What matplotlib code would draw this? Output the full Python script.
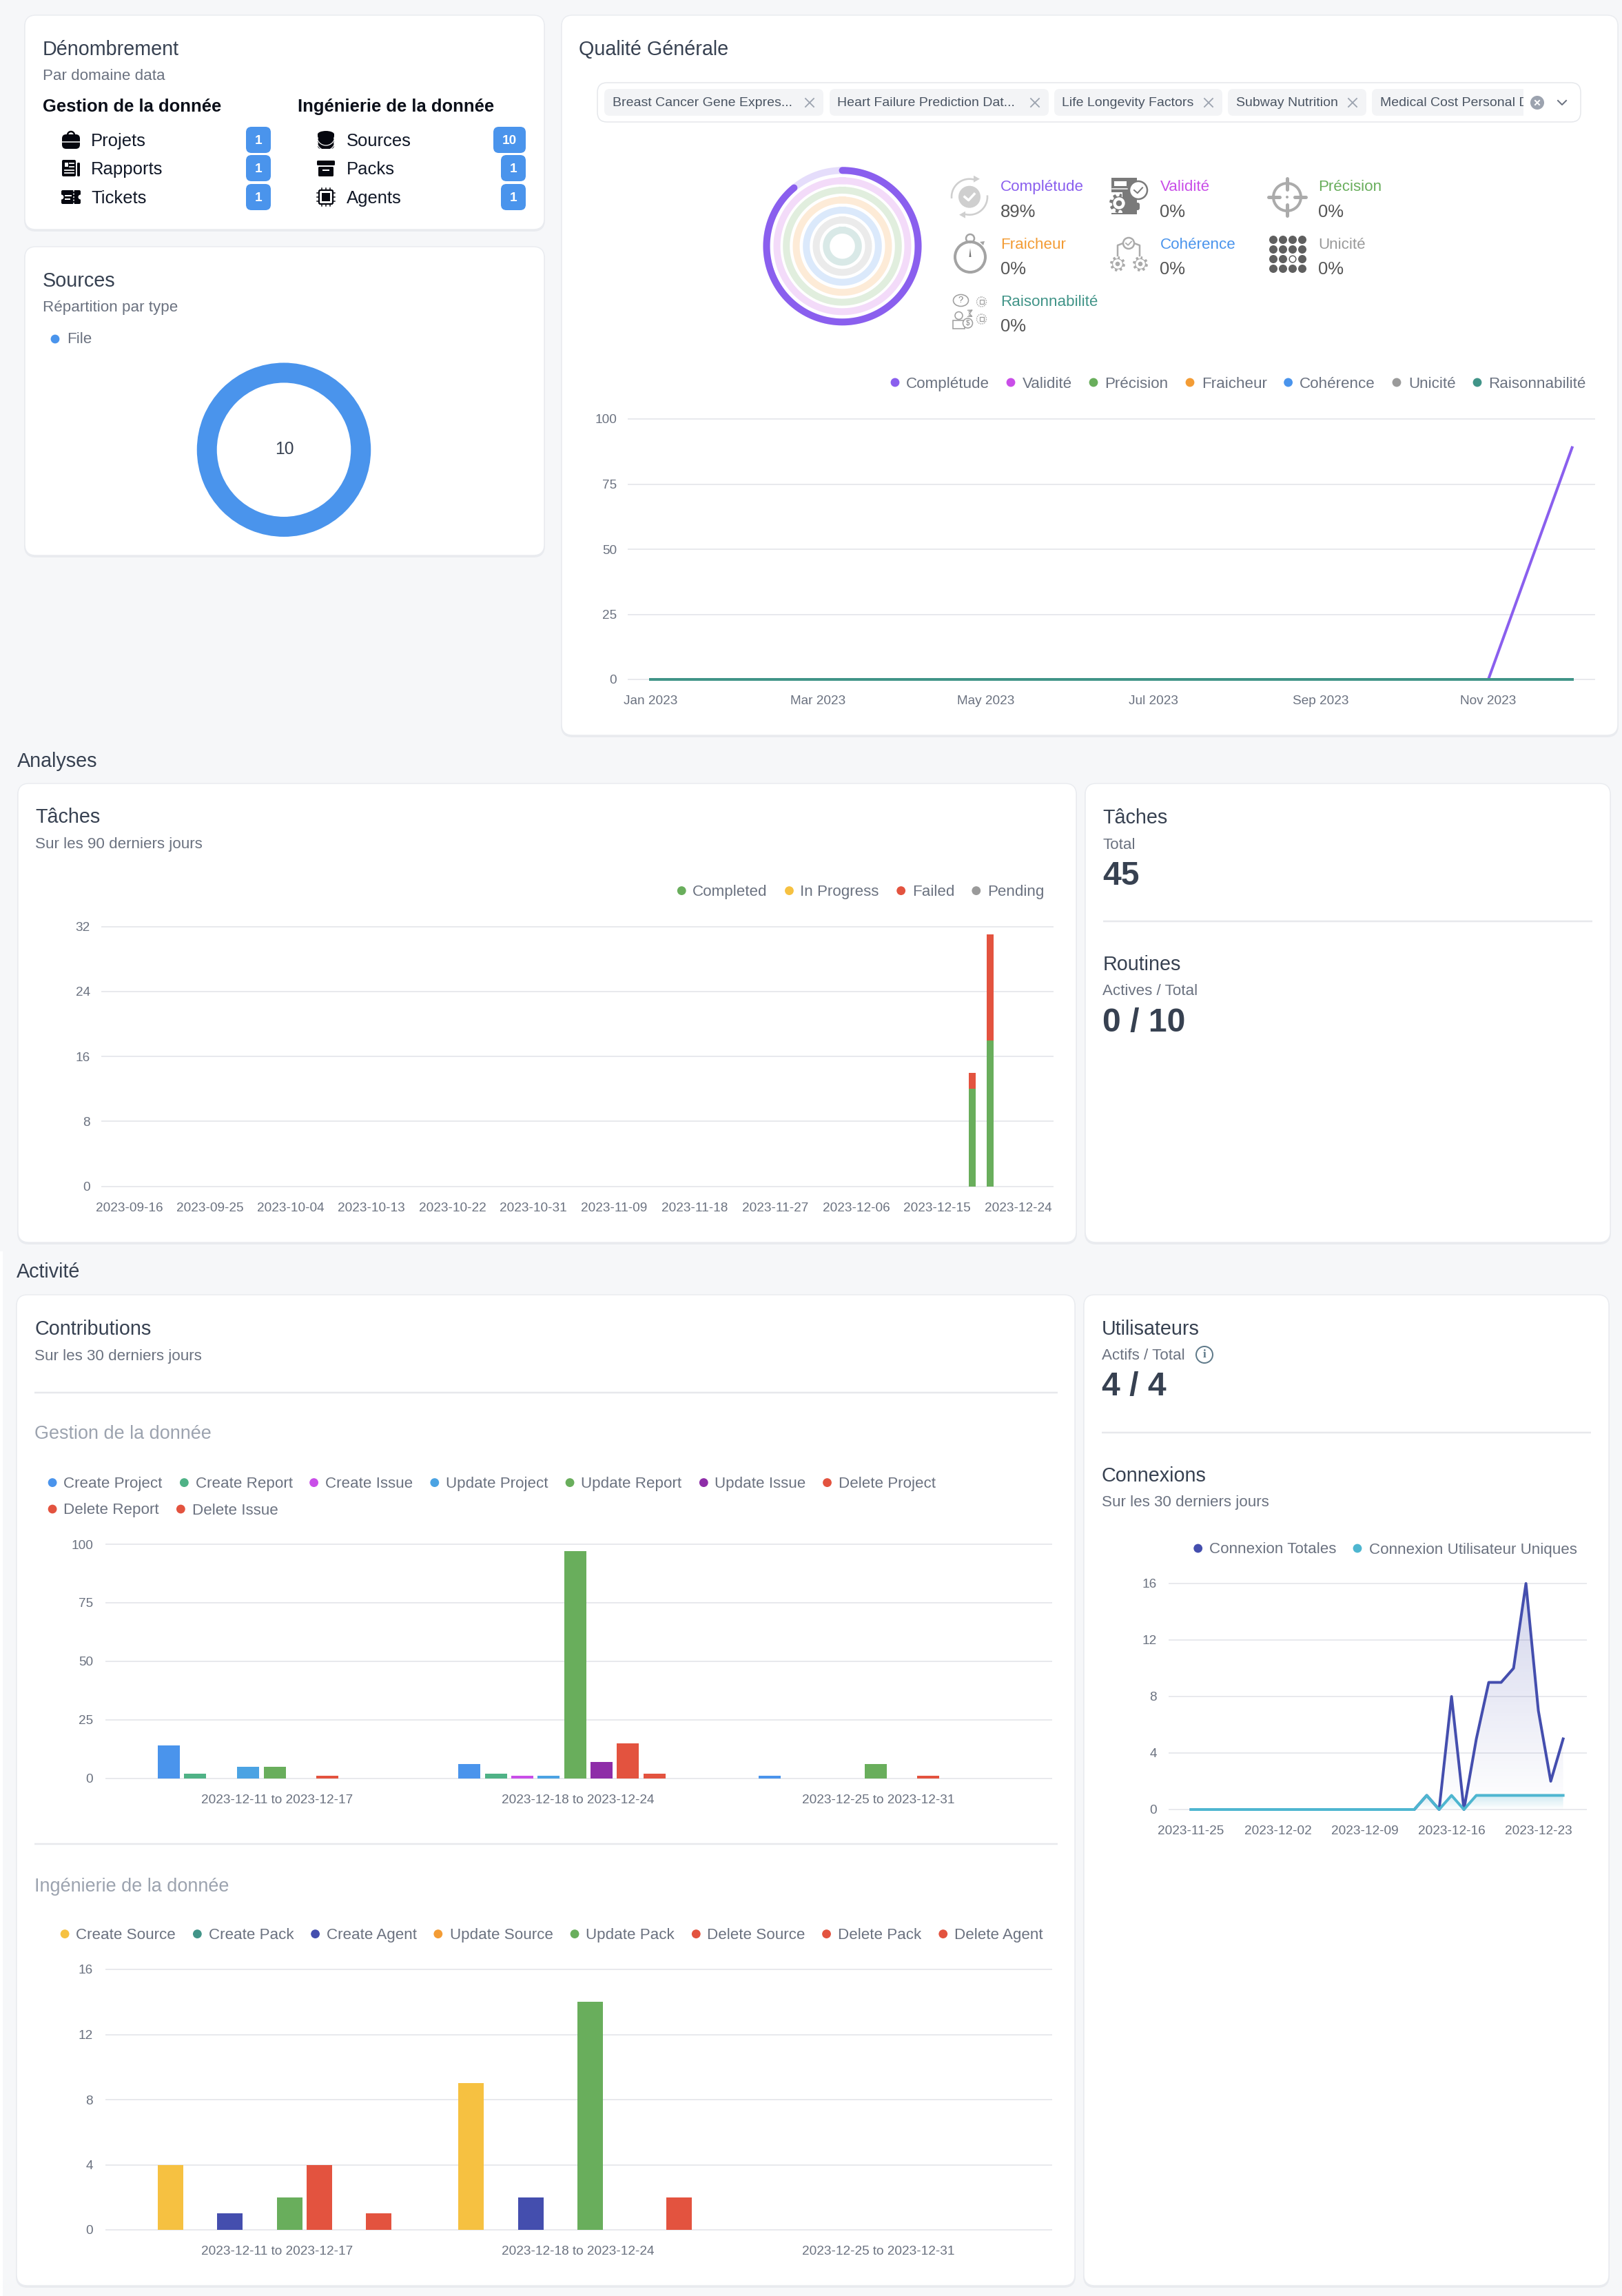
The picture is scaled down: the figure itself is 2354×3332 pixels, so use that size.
#!/usr/bin/env python3
"""Tableau de bord qualite / activite, refait en matplotlib."""
import numpy as np, pandas as pd
import matplotlib
matplotlib.use("Agg")
import matplotlib.pyplot as plt
import matplotlib.transforms as mtrans
from matplotlib.patches import FancyBboxPatch, Circle, Rectangle, Polygon, Ellipse

W, H = 2354, 3332
plt.rcParams["font.family"] = ["Liberation Sans", "DejaVu Sans"]

# couleurs
BG = "#F6F7F9"; TITLE = "#374151"; SUB = "#6B7280"; GRID = "#E8E9ED"
BLUE = "#4A94EC"; MINT = "#4FB286"; MAGENTA = "#C94EE8"; LBLUE = "#4BA3E3"
GREEN = "#69AE5C"; DPURPLE = "#8E2DA8"; RED = "#E3533F"; YELLOW = "#F6C141"
TEAL = "#419488"; INDIGO = "#444EAE"; ORANGE = "#F39C35"; PURPLE = "#8A5FEE"
GREY = "#9A9A9A"; CYAN = "#4EB6D0"

# ---- donnees ----
source_types = ["File"]
source_counts = [10]

quality_names = ["Complétude", "Validité", "Précision", "Fraicheur",
                 "Cohérence", "Unicité", "Raisonnabilité"]
quality_colors = [PURPLE, MAGENTA, GREEN, ORANGE, BLUE, GREY, TEAL]
quality_tracks = ["#E5DDFB", "#F3DBF9", "#E1EEDE", "#FDEBD7", "#DBE9FB",
                  "#EBEBEB", "#D9E9E7"]
quality_pct = [89, 0, 0, 0, 0, 0, 0]

months = ["Jan 2023", "Feb 2023", "Mar 2023", "Apr 2023", "May 2023", "Jun 2023",
          "Jul 2023", "Aug 2023", "Sep 2023", "Oct 2023", "Nov 2023", "Dec 2023"]
completude = [0, 0, 0, 0, 0, 0, 0, 0, 0, 0, 0, 89]
zero_year = [0, 0, 0, 0, 0, 0, 0, 0, 0, 0, 0, 0]

task_start = "2023-09-16"
task_dates = ["2023-12-19", "2023-12-21"]
task_completed = [12, 18]
task_failed = [2, 13]

weeks = ["2023-12-11 to 2023-12-17", "2023-12-18 to 2023-12-24",
         "2023-12-25 to 2023-12-31"]
gestion_names = ["Create Project", "Create Report", "Create Issue", "Update Project",
                 "Update Report", "Update Issue", "Delete Project", "Delete Report",
                 "Delete Issue"]
gestion_colors = [BLUE, MINT, MAGENTA, LBLUE, GREEN, DPURPLE, RED, RED, RED]
create_project = [14, 6, 1]
create_report = [2, 2, 0]
create_issue = [0, 1, 0]
update_project = [5, 1, 0]
update_report = [5, 97, 6]
update_issue = [0, 7, 0]
delete_project = [1, 15, 1]
delete_report = [0, 2, 0]
delete_issue = [0, 0, 0]

inge_names = ["Create Source", "Create Pack", "Create Agent", "Update Source",
              "Update Pack", "Delete Source", "Delete Pack", "Delete Agent"]
inge_colors = [YELLOW, TEAL, INDIGO, ORANGE, GREEN, RED, RED, RED]
create_source = [4, 9, 0]
create_pack = [0, 0, 0]
create_agent = [1, 2, 0]
update_source = [0, 0, 0]
update_pack = [2, 14, 0]
delete_source = [4, 0, 0]
delete_pack = [0, 0, 0]
delete_agent = [1, 2, 0]

conn_start = "2023-11-25"
conn_total = [0, 0, 0, 0, 0, 0, 0, 0, 0, 0, 0, 0, 0, 0, 0, 0, 0, 0, 0, 1,
              0, 8, 0, 5, 9, 9, 10, 16, 7, 2, 5]
conn_unique = [0, 0, 0, 0, 0, 0, 0, 0, 0, 0, 0, 0, 0, 0, 0, 0, 0, 0, 0, 1,
               0, 1, 0, 1, 1, 1, 1, 1, 1, 1, 1]


def px(v):
    return v * 0.72


def zx(vals):
    # petit facteur d'echelle des mesures horizontales
    return [v * 1570 / 1568 for v in vals]


fig = plt.figure(figsize=(W / 100, H / 100), dpi=100, facecolor=BG)
ov = fig.add_axes([0, 0, 1, 1], zorder=0)
ov.set_xlim(0, W); ov.set_ylim(H, 0); ov.axis("off")


def rrect(x0, y0, x1, y1, r, fc, ec="none", lw=0, z=2):
    p = FancyBboxPatch((x0, y0), x1 - x0, y1 - y0, fc=fc, ec=ec, lw=px(lw), zorder=z,
                       boxstyle=f"round,pad=0,rounding_size={r}")
    ov.add_patch(p)
    return p


def card(x0, y0, x1, y1):
    rrect(x0 - 1, y0 + 1, x1 + 1, y1 + 3, 17, "#E9EBEF", z=1)
    rrect(x0, y0, x1, y1, 16, "white", ec="#EAECF0", lw=1.5)


def txt(x, y, s, size=22.4, c=SUB, **kw):
    kw.setdefault("va", "center")
    kw.setdefault("zorder", 5)
    return ov.text(x, y + 2, s, fontsize=px(size), color=c, **kw)


def hline(x0, x1, y):
    ov.plot([x0, x1], [y, y], color="#E7E8EC", lw=px(2.5), zorder=3, solid_capstyle="butt")


def dot(x, y, c, r=6.4):
    ov.add_patch(Circle((x, y), r, fc=c, ec="none", zorder=5))


def legend_row(y, dots, texts, labels, colors):
    for dx, tx, lab, c in zip(dots, texts, labels, colors):
        dot(dx, y, c)
        txt(tx, y, lab, 22.4)


def chart_ax(x0, x1, ytop, ybot, ylim, yticks, ypad):
    ax = fig.add_axes([x0 / W, 1 - ybot / H, (x1 - x0) / W, (ybot - ytop) / H], zorder=4)
    ax.patch.set_visible(False)
    for s in ax.spines.values():
        s.set_visible(False)
    ax.set_ylim(*ylim); ax.set_yticks(yticks)
    ax.tick_params(axis="y", length=0, pad=px(ypad), labelsize=px(19), labelcolor=SUB)
    ax.tick_params(axis="x", length=0, pad=px(23), labelsize=px(19), labelcolor=SUB)
    ax.grid(axis="y", color=GRID, lw=px(2)); ax.set_axisbelow(True)
    for gl in ax.get_ygridlines():
        gl.set_clip_on(False)
    return ax


def shift_labels(ax, dx):
    off = mtrans.ScaledTranslation(dx / 100, 0, fig.dpi_scale_trans)
    for lab in ax.get_xticklabels():
        lab.set_transform(lab.get_transform() + off)


# ---- petites icones (decor) ----
def gear(cx, cy, r, c, hole=0.45, teeth=8, z=6):
    t = np.linspace(0, 2 * np.pi, teeth * 8, endpoint=False)
    rad = r * (0.86 + 0.14 * np.sign(np.sin(teeth * t)))
    ov.add_patch(Polygon(np.c_[cx + rad * np.cos(t), cy + rad * np.sin(t)], fc=c, ec="none", zorder=z))
    ov.add_patch(Circle((cx, cy), r * 0.62, fc="white", ec="none", zorder=z))
    ov.add_patch(Circle((cx, cy), r * hole, fc=c, ec="none", zorder=z))


def check(cx, cy, s, c, lw):
    ov.plot([cx - s, cx - s * 0.2, cx + s], [cy, cy + s * 0.7, cy - s * 0.6], color=c, lw=px(lw), zorder=9)


def arc(cx, cy, r, a0, a1, c, lw, z=6):
    t = np.radians(np.linspace(a0, a1, 40))
    ov.plot(cx + r * np.cos(t), cy + r * np.sin(t), color=c, lw=px(lw), zorder=z, solid_capstyle="butt")


def icon_briefcase(x, y):
    k = "#05070F"
    arc(x, y - 7, 5, 180, 360, k, 2.5)
    rrect(x - 13, y - 8, x + 13, y + 13, 6, k, z=6)
    ov.plot([x - 13, x + 13], [y + 3, y + 3], color="white", lw=px(1.5), zorder=7)


def icon_news(x, y):
    k = "#05070F"
    rrect(x - 13, y - 12, x + 7, y + 12, 2, k, z=6)
    rrect(x + 9, y - 8, x + 13, y + 12, 1.5, k, z=6)
    ov.add_patch(Rectangle((x - 9, y - 8), 5, 6, fc="white", zorder=7))
    for dy in (-7, -2, 3, 7):
        ov.plot([x - 9 if dy > 0 else x - 2, x + 4], [y + dy, y + dy], color="white", lw=px(1.8), zorder=7)


def icon_ticket(x, y):
    k = "#05070F"
    rrect(x - 14, y - 10, x + 14, y + 10, 2, k, z=6)
    ov.add_patch(Circle((x - 14, y), 3.5, fc="white", zorder=7))
    ov.add_patch(Circle((x + 14, y), 3.5, fc="white", zorder=7))
    ov.plot([x + 4, x + 4], [y - 10, y + 10], color="white", lw=px(1.5), ls=(0, (1.5, 1.5)), zorder=7)
    ov.plot([x - 8, x + 0], [y - 2, y - 2], color="white", lw=px(2), zorder=7)
    ov.plot([x - 8, x - 2], [y + 3, y + 3], color="white", lw=px(2), zorder=7)


def icon_db(x, y):
    k = "#05070F"
    for dy in (8, 1, -6):
        rrect(x - 12, y + dy - 5, x + 12, y + dy + 5, 5, k, z=6)
        if dy != -6:
            arc(x, y + dy - 6, 13, 10, 170, "white", 1.2, z=7)
    ov.add_patch(Ellipse((x, y - 8), 24, 10, fc=k, zorder=7))


def icon_archive(x, y):
    k = "#05070F"
    rrect(x - 13, y - 11, x + 13, y - 4, 1.5, k, z=6)
    rrect(x - 11, y - 2, x + 11, y + 12, 1.5, k, z=6)
    ov.plot([x - 4, x + 4], [y + 3, y + 3], color="white", lw=px(2), zorder=7)


def icon_chip(x, y):
    k = "#05070F"
    rrect(x - 10, y - 10, x + 10, y + 10, 2, "white", ec=k, lw=2.2, z=6)
    ov.add_patch(Rectangle((x - 6, y - 6), 12, 12, fc=k, zorder=7))
    for d in (-6, 0, 6):
        ov.plot([x + d, x + d], [y - 13, y + 13], color=k, lw=px(1.5), zorder=5)
        ov.plot([x - 13, x + 13], [y + d, y + d], color=k, lw=px(1.5), zorder=5)


def icon_completude(x, y):
    c = "#CFCFCF"
    ov.add_patch(Circle((x, y), 16, fc=c, zorder=6))
    check(x, y, 7, "white", 3.5)
    arc(x, y, 26, 175, 285, c, 2.6); arc(x, y, 26, -5, 105, c, 2.6)
    ov.add_patch(Polygon([(x + 6, y - 31), (x + 6, y - 21), (x + 15, y - 26)], fc=c, zorder=6))
    ov.add_patch(Polygon([(x - 6, y + 31), (x - 6, y + 21), (x - 15, y + 26)], fc=c, zorder=6))


def icon_validite(x, y):
    c = "#7A7A7A"
    ov.add_patch(Rectangle((x - 25, y - 27), 37, 53, fc=c, zorder=6))
    ov.add_patch(Rectangle((x - 21, y - 22), 18, 7, fc="white", zorder=7))
    ov.plot([x - 24, x - 2], [y - 11, y - 11], color="white", lw=px(1.5), zorder=7)
    ov.add_patch(Rectangle((x - 27, y - 6), 18, 30, fc="white", zorder=6.2))
    gear(x - 14, y + 10, 14, c, hole=0.3, z=7)
    ov.add_patch(Circle((x + 14, y - 9), 13, fc="white", ec=c, lw=px(2.5), zorder=8))
    check(x + 14, y - 9, 6, c, 2)
    rrect(x + 10, y + 9, x + 16, y + 20, 3, c, z=8)


def icon_precision(x, y):
    c = "#ABABAB"
    ov.add_patch(Circle((x, y), 20, fc="none", ec=c, lw=px(4), zorder=6))
    for dx, dy in ((1, 0), (-1, 0), (0, 1), (0, -1)):
        ov.plot([x + 11 * dx, x + 27 * dx], [y + 11 * dy, y + 27 * dy], color=c, lw=px(5),
                zorder=7, solid_capstyle="round")
    ov.add_patch(Circle((x, y), 2, fc=c, zorder=7))


def icon_fraicheur(x, y):
    c = "#A3A3A3"
    ov.add_patch(Circle((x, y), 22, fc="white", ec=c, lw=px(4), zorder=6))
    ov.add_patch(Circle((x, y - 27), 6, fc="none", ec=c, lw=px(2.5), zorder=6))
    ov.add_patch(Polygon([(x - 1.5, y), (x + 1.5, y), (x, y - 13)], fc="#777777", zorder=7))
    ov.add_patch(Polygon([(x + 14, y - 22), (x + 19, y - 17), (x + 21, y - 23)], fc=c, zorder=7))


def icon_coherence(x, y):
    c = "#ABABAB"
    ov.add_patch(Circle((x, y - 18), 8, fc="white", ec=c, lw=px(2.5), zorder=7))
    check(x, y - 18, 4, c, 1.8)
    ov.plot([x - 16, x - 16, x - 8], [y + 0, y - 15, y - 18], color=c, lw=px(2.5), zorder=6)
    ov.plot([x + 16, x + 16, x + 8], [y + 0, y - 15, y - 18], color=c, lw=px(2.5), zorder=6)
    gear(x - 16, y + 12, 11, c, hole=0.3); gear(x + 17, y + 12, 11, c, hole=0.3)


def icon_unicite(x, y):
    c = "#5F5F5F"
    for i in range(4):
        for j in range(4):
            cx, cy = x - 21 + 14 * i, y - 21 + 14 * j
            if (i, j) == (2, 2):
                ov.add_patch(Circle((cx, cy), 4.8, fc="white", ec=c, lw=px(1.5), zorder=6))
            else:
                ov.add_patch(Circle((cx, cy), 6, fc=c, zorder=6))


def icon_raison(x, y):
    c = "#A0A0A0"
    ov.add_patch(Ellipse((x - 13, y - 20), 22, 17, fc="white", ec=c, lw=px(1.6), zorder=6))
    txt(x - 13, y - 22, "?", 13, "#808080", ha="center", zorder=7)
    for dy in (-18, 7):
        ov.add_patch(Circle((x + 17, y + dy), 7, fc="none", ec=c, lw=px(1.4), ls=(0, (1, 1)), zorder=6))
        ov.add_patch(Rectangle((x + 14, y + dy - 3), 6, 6, fc="none", ec=c, lw=px(1.3), zorder=6))
    ov.annotate("", (x + 7, y - 8), (x - 4, y - 2), arrowprops=dict(arrowstyle="->", color=c, lw=px(1.4)), zorder=6)
    ov.annotate("", (x + 7, y + 5), (x - 4, y - 0), arrowprops=dict(arrowstyle="->", color=c, lw=px(1.4)), zorder=6)
    ov.add_patch(Circle((x - 16, y + 2), 5.5, fc="none", ec=c, lw=px(1.6), zorder=6))
    ov.add_patch(Rectangle((x - 25, y + 9), 17, 12, fc="none", ec=c, lw=px(1.6), zorder=6))
    ov.add_patch(Circle((x - 3, y + 13), 7, fc="white", ec=c, lw=px(1.6), zorder=7))
    txt(x - 3, y + 11, "$", 10, "#808080", ha="center", zorder=8)


# bande claire a gauche du bas de page
ov.add_patch(Rectangle((0, 1816), 4, H - 1816, fc="white", ec="none", zorder=0))

# ---- Denombrement ----
card(36, 22, 790, 333)
txt(62, 70, "Dénombrement", 28.8, TITLE)
txt(62, 108, "Par domaine data", 22.4)
txt(62, 153, "Gestion de la donnée", 25.6, "#0B0F19", fontweight="bold")
txt(432, 153, "Ingénierie de la donnée", 25.6, "#0B0F19", fontweight="bold")
rows_y = [203, 244, 286]
left_rows = ["Projets", "Rapports", "Tickets"]
right_rows = ["Sources", "Packs", "Agents"]
left_counts = [1, 1, 1]
right_counts = [10, 1, 1]
for y, lab, n, ic in zip(rows_y, left_rows, left_counts, (icon_briefcase, icon_news, icon_ticket)):
    ic(103, y)
    txt(132, y, lab, 25.6, "#111827")
    rrect(357, y - 19, 393, y + 19, 8, BLUE, z=4)
    txt(375, y - 1, str(n), 19, "white", ha="center", fontweight="bold")
for y, lab, n, ic in zip(rows_y, right_rows, right_counts, (icon_db, icon_archive, icon_chip)):
    ic(473, y)
    txt(502.5, y, lab, 25.6, "#111827")
    x0 = 716 if n >= 10 else 727
    rrect(x0, y - 19, 763, y + 19, 8, BLUE, z=4)
    txt((x0 + 763) / 2, y - 1, str(n), 19, "white", ha="center", fontweight="bold")

# ---- Sources ----
card(36, 358, 790, 806)
txt(62, 406, "Sources", 28.8, TITLE)
txt(62, 444, "Répartition par type", 22.4)
dot(80, 492, BLUE)
txt(97, 490, source_types[0], 22.4)
R = 127
don = fig.add_axes([(412 - R) / W, 1 - (652.7 + R) / H, 2 * R / W, 2 * R / H], zorder=4)
don.pie(source_counts, colors=[BLUE], startangle=90, radius=1,
        wedgeprops=dict(width=30.5 / R, edgecolor="white", linewidth=px(1.5)))
don.set_xlim(-1, 1); don.set_ylim(-1, 1)
txt(412.5, 650, str(sum(source_counts)), 24.6, TITLE, ha="center")

# ---- Qualite generale ----
card(815, 22, 2348, 1067)
txt(840, 70, "Qualité Générale", 28.8, TITLE)
rrect(867, 120, 2294, 177, 14, "white", ec="#E5E7EB", lw=1.5, z=3)
chips = [(877, 1195, 889, "Breast Cancer Gene Expres..."), (1204, 1522, 1215, "Heart Failure Prediction Dat..."),
         (1530, 1774, 1541, "Life Longevity Factors"), (1782, 1983, 1794, "Subway Nutrition")]
for x0, x1, tx, lab in chips:
    rrect(x0, 129, x1, 168, 8, "#F3F4F6", z=4)
    txt(tx, 147.5, lab, 19.5, "#4B5563")
    ov.plot([x1 - 26, x1 - 14], [143, 155], color="#9CA3AF", lw=px(1.8), zorder=5)
    ov.plot([x1 - 26, x1 - 14], [155, 143], color="#9CA3AF", lw=px(1.8), zorder=5)
rrect(1991, 129, 2225, 168, 8, "#F3F4F6", z=4)
ov.add_patch(Rectangle((2211, 125), 16, 48, fc="white", ec="none", zorder=4.5))
t = txt(2003, 147.5, "Medical Cost Personal Data", 19.5, "#4B5563", clip_on=True)
t.set_clip_path(Rectangle((1991, 125), 220, 48, transform=ov.transData))
ov.add_patch(Circle((2231, 149), 10, fc="#9CA3AF", zorder=5))
ov.plot([2228, 2234], [146, 152], color="white", lw=px(2), zorder=6)
ov.plot([2228, 2234], [152, 146], color="white", lw=px(2), zorder=6)
ov.plot([2261, 2267, 2273], [146, 152, 146], color="#6B7280", lw=px(2), zorder=5)

# anneaux
rad = fig.add_axes([(1222.5 - 120) / W, 1 - (357.3 + 120) / H, 240 / W, 240 / H], zorder=4)
rad.set_xlim(-120, 120); rad.set_ylim(-120, 120); rad.axis("off")
ring_r = [110, 95, 81.3, 67, 52.3, 38, 23.3]
for r, v, col, tr in zip(ring_r, quality_pct, quality_colors, quality_tracks):
    th = np.linspace(0, 2 * np.pi, 300)
    rad.plot(r * np.sin(th), r * np.cos(th), color=tr, lw=px(10))
    if v > 0:
        th = np.linspace(0, 2 * np.pi * v / 100, 300)
        rad.plot(r * np.sin(th), r * np.cos(th), color=col, lw=px(10), solid_capstyle="round")

cells = [(1452, 269.5, 306), (1683.5, 269.5, 306), (1913, 269.5, 306),
         (1452, 353.7, 389), (1683.5, 353.7, 389), (1913, 353.7, 389),
         (1452, 436.5, 472)]
for (x, y0, y1), name, col, v in zip(cells, quality_names, quality_colors, quality_pct):
    txt(x, y0, name, 22.4, col)
    txt(x, y1, f"{v}%", 25.6, "#555555")
icon_completude(1407, 285.7); icon_validite(1638, 285); icon_precision(1868, 286)
icon_fraicheur(1408, 373); icon_coherence(1638, 371); icon_unicite(1869, 369)
icon_raison(1407.5, 456)

legend_row(555, [1299, 1467, 1587, 1727, 1869.6, 2027, 2144],
           [1315, 1483.6, 1603, 1744.5, 1886, 2044, 2160], quality_names, quality_colors)

ax = chart_ax(912, 2314, 608, 986, (0, 100), [0, 25, 50, 75, 100], 17)
idx = np.arange(len(months))
ax.set_xlim((912 - 944) / 121.6, (2314 - 944) / 121.6)
ax.plot(idx, completude, color=PURPLE, lw=px(4), clip_on=False)
for col in quality_colors[1:]:
    ax.plot(idx, zero_year, color=col, lw=px(4), clip_on=False)
ax.set_xticks(idx[::2]); ax.set_xticklabels(months[::2])

# ---- Analyses ----
txt(25, 1103, "Analyses", 28.8, TITLE)
card(26, 1137, 1562, 1803)
txt(51, 1184, "Tâches", 28.8, TITLE)
txt(51, 1223, "Sur les 90 derniers jours", 22.4)
legend_row(1292.6, zx([988, 1144, 1306, 1415]), zx([1004, 1160, 1322, 1431]),
           ["Completed", "In Progress", "Failed", "Pending"], [GREEN, YELLOW, RED, GREY])
ax = chart_ax(148, 1528, 1344.7, 1721.7, (0, 32), [0, 8, 16, 24, 32], 17)
t0 = pd.Timestamp(task_start)
d = (pd.to_datetime(task_dates) - t0).days.values
ax.set_xlim((148 - 186) / 13.03, (1528 - 186) / 13.03)
ax.bar(d, task_completed, width=10 / 13.03, color=GREEN)
ax.bar(d, task_failed, bottom=task_completed, width=10 / 13.03, color=RED)
tk = pd.date_range(t0, periods=12, freq="9D")
ax.set_xticks((tk - t0).days.values); ax.set_xticklabels(tk.strftime("%Y-%m-%d"))
shift_labels(ax, 1.5)

card(1575, 1137, 2337, 1803)
txt(1600.5, 1185, "Tâches", 28.8, TITLE)
txt(1600.5, 1224, "Total", 22.4)
txt(1600.5, 1269, "45", 48, TITLE, fontweight="bold")
hline(1601, 2311, 1337)
txt(1600.5, 1398, "Routines", 28.8, TITLE)
txt(1600.5, 1436, "Actives / Total", 22.4)
txt(1600.5, 1482, "0 / 10", 48, TITLE, fontweight="bold")

# ---- Activite ----
txt(24, 1844, "Activité", 28.8, TITLE)
card(24, 1879, 1560, 3317)
txt(50, 1927, "Contributions", 28.8, TITLE)
txt(50, 1966, "Sur les 30 derniers jours", 22.4)
hline(50, 1535, 2020.5)
txt(50, 2079, "Gestion de la donnée", 27, "#9CA3AF")
legend_row(2151.6, zx([76, 267, 455, 630, 826, 1020, 1199]), zx([92, 284, 471, 646, 842, 1036, 1215]),
           gestion_names[:7], gestion_colors[:7])
legend_row(2190, zx([76, 262]), zx([92, 279]), gestion_names[7:], gestion_colors[7:])


def week_bars(ax, series, colors, width, step):
    n = len(series)
    x = np.arange(len(weeks))
    for i, (vals, col) in enumerate(zip(series, colors)):
        ax.bar(x + (i - (n - 1) / 2) * step / 436.1, vals, width=width / 436.1, color=col)
    ax.set_xlim((154 - 398.5) / 436.1, (1526 - 398.5) / 436.1)
    ax.set_xticks(x); ax.set_xticklabels(weeks)
    shift_labels(ax, 4)


ax = chart_ax(154, 1526, 2241, 2580.7, (0, 100), [0, 25, 50, 75, 100], 19)
week_bars(ax, [create_project, create_report, create_issue, update_project, update_report,
               update_issue, delete_project, delete_report, delete_issue],
          gestion_colors, 32, 38.35)

hline(50, 1535, 2676)
txt(50, 2736, "Ingénierie de la donnée", 27, "#9CA3AF")
legend_row(2806.6, zx([94, 286, 457, 635, 833, 1009, 1198, 1367]),
           zx([110, 303, 473, 652, 849, 1025, 1214, 1383]), inge_names, inge_colors)
ax = chart_ax(154, 1526, 2858, 3236, (0, 16), [0, 4, 8, 12, 16], 19)
week_bars(ax, [create_source, create_pack, create_agent, update_source, update_pack,
               delete_source, delete_pack, delete_agent], inge_colors, 37, 43.05)

# ---- Utilisateurs ----
card(1573, 1879, 2335, 3317)
txt(1599, 1927, "Utilisateurs", 28.8, TITLE)
txt(1599, 1965.5, "Actifs / Total", 22.4)
ov.add_patch(Circle((1748, 1966), 12, fc="none", ec="#5F7A8A", lw=px(2), zorder=5))
txt(1748, 1964, "i", 17, "#5F7A8A", ha="center", fontweight="bold", family="Liberation Serif")
txt(1599, 2010, "4 / 4", 48, TITLE, fontweight="bold")
hline(1599, 2309, 2078.5)
txt(1599, 2140, "Connexions", 28.8, TITLE)
txt(1599, 2178.7, "Sur les 30 derniers jours", 22.4)
legend_row(2247, [1738.7, 1970], [1755.4, 1987],
           ["Connexion Totales", "Connexion Utilisateur Uniques"], [INDIGO, CYAN])

ax = chart_ax(1696.7, 2302, 2298, 2626, (0, 16), [0, 4, 8, 12, 16], 18)
x = np.arange(len(conn_total))
xl = ((1696.7 - 1728.6) / 18, (2302 - 1728.6) / 18)


def area(ax, x, y, col, top, alpha):
    # degrade vertical sous la courbe
    poly = ax.fill_between(x, y, 0, color=col, alpha=0)
    rgba = np.ones((256, 1, 4))
    rgba[..., :3] = matplotlib.colors.to_rgb(col)
    rgba[..., 3] = np.linspace(alpha, 0, 256)[:, None]
    im = ax.imshow(rgba, extent=[x[0], x[-1], 0, top], aspect="auto", origin="upper", zorder=1.5)
    im.set_clip_path(poly.get_paths()[0], transform=ax.transData)


area(ax, x, conn_total, INDIGO, max(conn_total), 0.24)
area(ax, x, conn_unique, CYAN, max(conn_unique), 0.25)
ax.plot(x, conn_total, color=INDIGO, lw=px(4), zorder=3, clip_on=False)
ax.plot(x, conn_unique, color=CYAN, lw=px(4), zorder=3.1, clip_on=False)
ax.set_xlim(*xl); ax.set_ylim(0, 16)
t0 = pd.Timestamp(conn_start)
tk = pd.date_range(t0, periods=5, freq="7D")
ax.set_xticks((tk - t0).days.values); ax.set_xticklabels(tk.strftime("%Y-%m-%d"))

fig.savefig("out.png", dpi=100, facecolor=BG)
